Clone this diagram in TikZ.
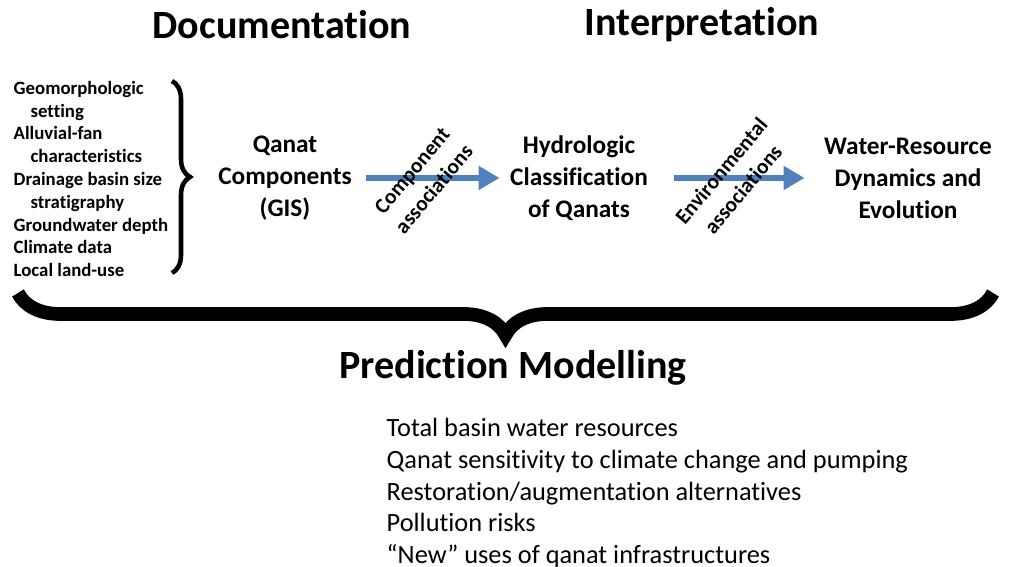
\documentclass[tikz,border=0pt]{standalone}
\usepackage{fontspec}
\setmainfont{Carlito}[Ligatures=NoCommon]
\definecolor{flowblue}{RGB}{79,129,189}
\usetikzlibrary{arrows.meta, positioning, decorations.pathreplacing}
\tikzset{
    headtext/.style={font=\fontsize{11.4}{13.7}\selectfont\bfseries, inner sep=0pt},
    stagetext/.style={font=\fontsize{7.2}{9.1}\selectfont\bfseries, align=center, inner sep=0pt},
    factortext/.style={font=\fontsize{5.35}{6.48}\selectfont\bfseries, align=left, inner sep=0pt},
    assoctext/.style={font=\fontsize{6.1}{8.1}\selectfont\bfseries, align=center, rotate=50, inner sep=0pt},
    usetext/.style={font=\fontsize{7.5}{9.1}\selectfont, align=left, inner sep=0pt},
    flowarrow/.style={-{Triangle[length=2.1mm, width=2.3mm]}, line width=1.7pt, flowblue},
    smallbrace/.style={decorate, decoration={brace, amplitude=1.8mm}, line width=1.3pt},
    bigbrace/.style={decorate, decoration={brace, amplitude=4.2mm}, line width=3.9pt},
}

\begin{document}
\begin{tikzpicture}
    \useasboundingbox (0,0) rectangle (10.13,5.67);

    % Headings
    \node[headtext] (doc) at (2.82, 5.42) {Documentation};
    \node[headtext] (interp) at (7.02, 5.42) {Interpretation};

    % Factors and brace
    \node[factortext, anchor=west] (factors) at (0.13, 3.88) {Geomorphologic\\
        \hspace*{0.9em}setting\\
        Alluvial-fan\\
        \hspace*{0.9em}characteristics\\
        Drainage basin size\\
        \hspace*{0.9em}stratigraphy\\
        Groundwater depth\\
        Climate data\\
        Local land-use};
    \draw[smallbrace] (1.72, 4.86) -- (1.72, 2.94);

    % Stages
    \node[stagetext] (qanat) at (2.85, 3.89) {Qanat\\Components\\(GIS)};
    \node[stagetext] (hydro) at (5.79, 3.89) {Hydrologic\\Classification\\of Qanats};
    \node[stagetext] (water) at (9.08, 3.89) {Water-Resource\\Dynamics and\\Evolution};

    \draw[flowarrow, shorten <=1.4mm, shorten >=1mm] (qanat) -- (hydro);
    \draw[flowarrow, shorten <=2.5mm, shorten >=1.9mm] (hydro) -- (water);

    \node[assoctext] (compassoc) at (4.23, 3.87) {Component\\associations};
    \node[assoctext] (envassoc) at (7.32, 3.87) {Environmental\\associations};

    % Prediction
    \draw[bigbrace] (9.93, 2.74) -- (0.18, 2.74);
    \node[headtext] (pred) at (5.13, 1.99) {Prediction Modelling};

    \node[usetext, anchor=west] (uses) at (3.86, 0.74) {Total basin water resources\\
        Qanat sensitivity to climate change and pumping\\
        Restoration/augmentation alternatives\\
        Pollution risks\\
        “New” uses of qanat infrastructures};
\end{tikzpicture}
\end{document}
